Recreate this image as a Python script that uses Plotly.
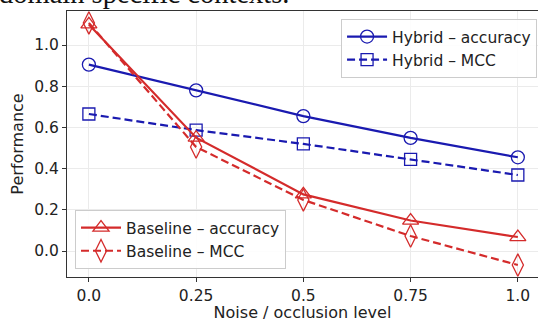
import plotly.graph_objects as go

noise = [0.0, 0.25, 0.5, 0.75, 1.0]
hybrid_acc = [0.905, 0.78, 0.655, 0.549, 0.455]
hybrid_mcc = [0.665, 0.587, 0.52, 0.445, 0.369]
base_acc = [1.10, 0.55, 0.275, 0.148, 0.068]
base_mcc = [1.107, 0.505, 0.248, 0.073, -0.068]
xticks = [0.0, 0.25, 0.5, 0.75, 1.0]
xtick_text = ["0.0", "0.25", "0.5", "0.75", "1.0"]
yticks = [0.0, 0.2, 0.4, 0.6, 0.8, 1.0]

BLUE = "#1a1ab0"
RED = "#d42b2b"
DASH = "8px,4px"

fig = go.Figure()
fig.add_trace(go.Scatter(x=noise, y=hybrid_acc, name="Hybrid – accuracy", mode="lines+markers",
                         line=dict(color=BLUE, width=2.2),
                         marker=dict(symbol="circle-open", size=13, color=BLUE, line=dict(width=1.3)),
                         legend="legend"))
fig.add_trace(go.Scatter(x=noise, y=hybrid_mcc, name="Hybrid – MCC", mode="lines+markers",
                         line=dict(color=BLUE, width=2.2, dash=DASH),
                         marker=dict(symbol="square-open", size=12, color=BLUE, line=dict(width=1.3)),
                         legend="legend"))
fig.add_trace(go.Scatter(x=noise, y=base_acc, name="Baseline – accuracy", mode="lines+markers",
                         line=dict(color=RED, width=2.2),
                         marker=dict(symbol="triangle-up-open", size=14, color=RED, line=dict(width=1.3)),
                         legend="legend2"))
fig.add_trace(go.Scatter(x=noise, y=base_mcc, name="Baseline – MCC", mode="lines+markers",
                         line=dict(color=RED, width=2.2, dash=DASH),
                         marker=dict(symbol="diamond-tall-open", size=16, color=RED, line=dict(width=1.3)),
                         legend="legend2"))

font = "DejaVu Sans"
fig.update_layout(
    width=538, height=322,
    margin=dict(l=67, r=0, t=11, b=45),
    paper_bgcolor="white", plot_bgcolor="white",
    font=dict(family=font, size=15.5, color="#222"),
    showlegend=True,
    legend=dict(x=0.998, y=0.97, xanchor="right", yanchor="top",
                bgcolor="rgba(255,255,255,0.9)", bordercolor="#cccccc", borderwidth=1,
                font=dict(size=15.5, family=font), itemwidth=40, tracegroupgap=0),
    legend2=dict(x=0.017, y=0.03, xanchor="left", yanchor="bottom",
                 bgcolor="rgba(255,255,255,0.9)", bordercolor="#cccccc", borderwidth=1,
                 font=dict(size=15.5, family=font), itemwidth=40, tracegroupgap=0),
    xaxis=dict(range=[-0.051, 1.047], tickvals=xticks, ticktext=xtick_text,
               showgrid=True, gridcolor="#ebebeb", zeroline=False,
               showline=True, linecolor="#333", linewidth=1.2, mirror=True,
               ticks="outside", ticklen=4, tickcolor="#333", tickfont=dict(size=15.5),
               title=dict(text="Noise / occlusion level", font=dict(size=16), standoff=4)),
    yaxis=dict(range=[-0.126, 1.165], tickvals=yticks, tickformat=".1f",
               showgrid=True, gridcolor="#ebebeb", zeroline=False,
               showline=True, linecolor="#333", linewidth=1.2, mirror=True,
               ticks="outside", ticklen=4, tickcolor="#333", tickfont=dict(size=15.5),
               title=dict(text="Performance", font=dict(size=16), standoff=6)),
)
fig.add_annotation(text="domain specific contexts.", xref="paper", yref="paper",
                   x=-0.1486, y=1.0, xanchor="left", yanchor="bottom", yshift=0,
                   showarrow=False, font=dict(family="Liberation Serif", size=28.5, color="#111"))

fig.write_html("out.html")
